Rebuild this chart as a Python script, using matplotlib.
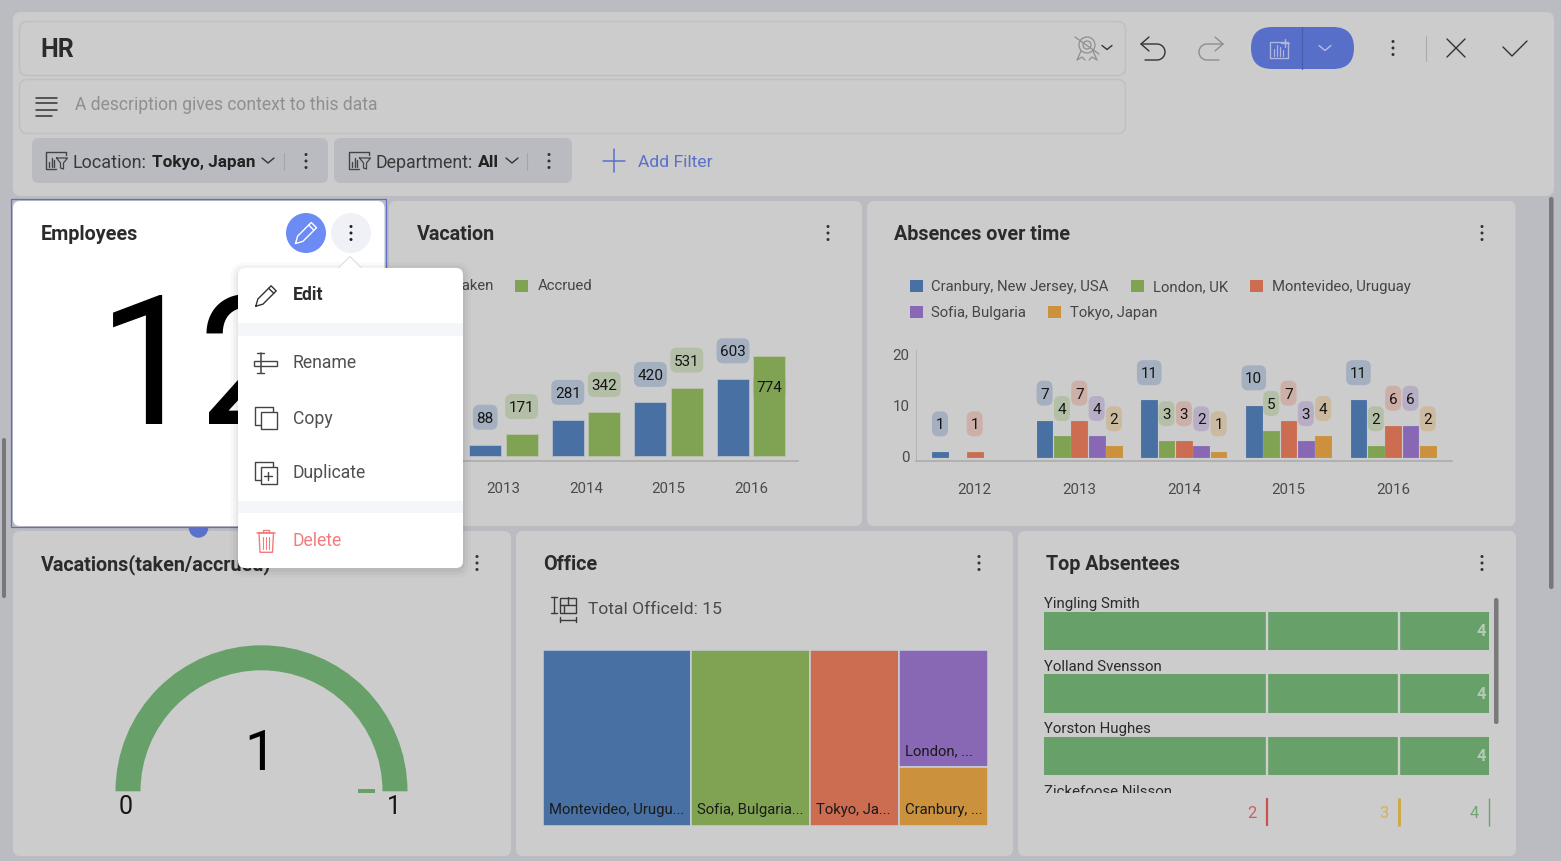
import numpy as np
import matplotlib
matplotlib.use("Agg")
import matplotlib.pyplot as plt
from matplotlib.patches import FancyBboxPatch, Rectangle, Circle, Wedge, Polygon

# ---------- data ----------
vac_years = ["2013", "2014", "2015", "2016"]
vac_taken = [88, 281, 420, 603]
vac_accrued = [171, 342, 531, 774]

abs_years = ["2012", "2013", "2014", "2015", "2016"]
abs_cranbury = [1, 7, 11, 10, 11]
abs_london = [0, 4, 3, 5, 2]
abs_montevideo = [1, 7, 3, 7, 6]
abs_sofia = [0, 4, 2, 3, 6]
abs_tokyo = [0, 2, 1, 4, 2]
abs_names = ["Cranbury, New Jersey, USA", "London, UK", "Montevideo, Uruguay", "Sofia, Bulgaria", "Tokyo, Japan"]

office_names = ["Montevideo, Urugu...", "Sofia, Bulgaria...", "Tokyo, Ja...", "London, ...", "Cranbury, ..."]
office_values = [5, 4, 3, 2, 1]

absentees = ["Yingling Smith", "Yolland Svensson", "Yorston Hughes", "Zickefoose Nilsson"]
absentee_values = [4, 4, 4, 4]
band_stops = [2, 3, 4]
gauge_value = 1
gauge_min = 0
gauge_max = 1
employees_value = "12"

menu_items = ["Rename", "Copy", "Duplicate"]

# ---------- style ----------
W, H = 1561, 861
PAGE = "#BBBCC2"
PANEL = "#CCCCCC"
EDGE = "#BFBFC0"
CHIP = "#BABBC1"
BLUE = "#4870A3"
GREEN = "#7FA352"
RED = "#CC6D52"
PURPLE = "#8868B5"
ORANGE = "#CB913C"
ACCENT = "#5A70CA"
BULLET = "#68A06A"
DARK = "#2B2B2B"
MID = "#454545"
TICK = "#4A4A4A"

plt.rcParams["font.family"] = ["Roboto", "DejaVu Sans"]
fig = plt.figure(figsize=(W / 100, H / 100), dpi=100, facecolor=PAGE)


def layer(z):
    a = fig.add_axes([0, 0, 1, 1], zorder=z)
    a.set_xlim(0, W)
    a.set_ylim(H, 0)
    a.axis("off")
    a.patch.set_alpha(0)
    return a


bg, mid, top = layer(0), layer(2), layer(3)
PIXEL_LAYERS = (bg, mid, top)


def rect_axes(x0, y0, x1, y1, z=1):
    a = fig.add_axes([x0 / W, 1 - y1 / H, (x1 - x0) / W, (y1 - y0) / H], zorder=z)
    a.patch.set_alpha(0)
    return a


def rbox(a, x0, y0, x1, y1, r=7, fc=PANEL, ec="none", lw=1, alpha=None, z=1):
    p = FancyBboxPatch((x0 + r, y0 + r), x1 - x0 - 2 * r, y1 - y0 - 2 * r,
                       boxstyle=f"round,pad={r},rounding_size={r}",
                       fc=fc, ec=ec, lw=lw, alpha=alpha, zorder=z)
    a.add_patch(p)
    return p


def T(a, x, y, s, px=15, color=MID, weight="normal", ha="left", va="center", z=5, **kw):
    if va == "center" and a in PIXEL_LAYERS:
        y = y + 1
    return a.text(x, y, s, fontsize=px * 0.72, color=color, fontweight=weight,
                  ha=ha, va=va, zorder=z, **kw)


def L(a, xs, ys, color=MID, lw=1.0, z=6):
    a.plot(xs, ys, color=color, lw=lw, solid_capstyle="round", solid_joinstyle="round", zorder=z)


def kebab(a, x, y, color="#333333", gap=6.5, r=1.5):
    for d in (-gap, 0, gap):
        a.add_patch(Circle((x, y + d), r, fc=color, ec="none", zorder=7))


def chev(a, x, y, w=6, h=5, color="#333333", lw=1.0):
    L(a, [x - w, x, x + w], [y - h / 2, y + h / 2, y - h / 2], color=color, lw=lw)


def pencil(a, cx, cy, s, color, lw=1.0):
    pts = np.array([[-10, 10], [-8, 3], [5, -10], [10, -5], [-3, 8], [-10, 10]]) * s
    L(a, pts[:, 0] + cx, pts[:, 1] + cy, color=color, lw=lw)
    L(a, [cx + 2.6 * s, cx + 7.6 * s], [cy - 7.6 * s, cy - 2.6 * s], color=color, lw=lw)


def filter_icon(a, x, y):
    L(a, [x + 20, x + 20, x, x, x + 10], [y + 3, y, y, y + 17, y + 17], color="#444444", lw=1.0)
    for dx, h in ((3, 5), (5.5, 9), (8, 7)):
        L(a, [x + dx, x + dx], [y + 15, y + 15 - h], color="#444444", lw=1.0)
    L(a, [x + 10, x + 21, x + 17, x + 17, x + 14, x + 14, x + 10],
      [y + 6, y + 6, y + 11, y + 17, y + 16, y + 11, y + 6], color="#444444", lw=0.9)


# ---------- page ----------
rbox(bg, 13, 12, 1554, 196, r=8)
rbox(bg, 19.5, 21.5, 1125.5, 75.5, r=8, ec=EDGE, lw=1.0)
rbox(bg, 19.5, 79.5, 1125.5, 133.5, r=8, ec=EDGE, lw=1.0)
T(bg, 40.5, 49, "HR", 25, DARK, "bold")
T(bg, 75, 104.5, "A description gives context to this data", 17.55, "#8F8F8F")
for yy, x1 in ((98, 57), (103, 57), (110, 57), (116, 52)):
    L(bg, [36, x1], [yy, yy], "#333333", 1.1)

rbox(bg, 32, 138, 328, 183, r=7, fc=CHIP)
rbox(bg, 334, 138, 572, 183, r=7, fc=CHIP)
filter_icon(bg, 46.5, 152)
filter_icon(bg, 349.5, 152)
T(bg, 73, 161.5, "Location:", 18, "#3A3A3A")
T(bg, 152, 161.5, "Tokyo, Japan", 17.1, "#222222", "bold")
chev(bg, 268, 160.5)
L(bg, [284, 284], [153, 170], "#A5A5AA", 0.8)
kebab(bg, 306, 161)
T(bg, 376, 161.5, "Department:", 17.7, "#3A3A3A")
T(bg, 478, 161.5, "All", 17.5, "#222222", "bold")
chev(bg, 512, 160.5)
L(bg, [527, 527], [153, 170], "#A5A5AA", 0.8)
kebab(bg, 549, 161)
L(bg, [603, 625], [161, 161], ACCENT, 1.1)
L(bg, [614, 614], [149, 172], ACCENT, 1.1)
T(bg, 638.5, 161.5, "Add Filter", 17.5, ACCENT)

# toolbar icons
ax0 = 1087
bg.add_patch(Circle((ax0, 45), 8, fc="none", ec="#8F8F8F", lw=0.9, zorder=6))
bg.add_patch(Circle((ax0, 45), 4, fc="none", ec="#8F8F8F", lw=0.9, zorder=6))
L(bg, [ax0 - 6, ax0 - 10, ax0 - 5, ax0 - 2], [51, 60, 57, 60], "#8F8F8F", 0.9)
L(bg, [ax0 + 6, ax0 + 10, ax0 + 5, ax0 + 2], [51, 60, 57, 60], "#8F8F8F", 0.9)
L(bg, [ax0 - 12, ax0 + 12], [37, 54], "#8F8F8F", 0.9)
chev(bg, 1107, 47.5, 5, 4)
# undo / redo
for x0, sgn, col in ((1141, 1, "#333333"), (1223, -1, "#8E8E8E")):
    L(bg, [x0 + sgn * 8, x0, x0 + sgn * 8], [37, 44, 51], col, 1.0)
    th = np.linspace(-np.pi / 2, np.pi / 2, 24)
    L(bg, np.r_[x0, x0 + sgn * 16 + sgn * 8 * np.cos(th), x0 + sgn * 4],
      np.r_[44, 52 + 8 * np.sin(th), 60], col, 1.0)
rbox(bg, 1251, 27, 1354, 69, r=21, fc="#586FC9")
L(bg, [1302.5, 1302.5], [27, 69], "#4A5EAF", 0.9)
L(bg, [1288, 1270, 1270, 1288, 1288], [42, 42, 58, 58, 44], "#AEB6DD", 1.0)
for dx, h in ((4, 7), (7, 11), (10, 9), (13, 6)):
    L(bg, [1270 + dx, 1270 + dx], [56, 56 - h], "#AEB6DD", 0.9)
L(bg, [1281, 1289], [43, 43], "#AEB6DD", 1.0)
L(bg, [1285, 1285], [39, 47], "#AEB6DD", 1.0)
chev(bg, 1325, 48, 6, 5, "#B5BDE3", 1.0)
kebab(bg, 1393, 48)
L(bg, [1426.5, 1426.5], [36, 61], "#ABABAB", 0.8)
L(bg, [1447, 1465], [39, 57], "#333333", 1.0)
L(bg, [1465, 1447], [39, 57], "#333333", 1.0)
L(bg, [1503, 1512, 1527], [47, 56, 41], "#333333", 1.0)

# ---------- cards ----------
bg.add_patch(Rectangle((11.5, 199), 374.5, 328, fc="none", ec=ACCENT, lw=0.9, zorder=1))
rbox(bg, 13, 201, 384.5, 526, r=7, fc="white", z=2)
rbox(bg, 389, 201, 862, 526, r=7)
rbox(bg, 867, 201, 1515.5, 526, r=7)
rbox(bg, 13, 531, 511, 856, r=7)
rbox(bg, 516, 531, 1013, 856, r=7)
rbox(bg, 1018, 531, 1516, 856, r=7)

titles = [(41, 234, "Employees"), (417, 234, "Vacation"), (894.5, 234, "Absences over time"),
          (41, 564, "Vacations(taken/accrued)"), (543, 564, "Office"), (1046, 564, "Top Absentees")]
for x, y, s in titles:
    T(bg, x, y, s, 19.8, DARK, "bold")
for x, y in ((828, 233), (1482, 233), (477, 563), (979, 563), (1482, 563)):
    kebab(bg, x, y)

# scrollbars
rbox(bg, 1549, 197, 1553.5, 589, r=2, fc="#77777C")
rbox(bg, 2, 438, 6, 598, r=2, fc="#78787C")
rbox(bg, 1494, 598, 1498.5, 724, r=2, fc="#7A7A7C")

# Employees KPI
bg.add_patch(Circle((306, 233), 20, fc="#6C8BF5", ec="none", zorder=3))
pencil(bg, 306, 233, 1.05, "white", 1.0)
bg.add_patch(Circle((351, 233), 20, fc="#F0F1F7", ec="none", zorder=3))
kebab(bg, 351, 233, "#222222")
T(bg, 199, 424, employees_value, 180, "black", ha="center", va="baseline", z=4)
hd = Circle((198.5, 528), 9.7, fc=ACCENT, ec="none", zorder=3)
bg.add_patch(hd)
hd.set_clip_path(Rectangle((0, 527), W, 30, transform=bg.transData))


# ---------- Vacation ----------
VX0, VDX, VY0, VK = 503.4, 82.6, 456.3, 0.129
axv = rect_axes(380, 340, 798, 461.3)
axv.set_xlim((380 - VX0) / VDX, (798 - VX0) / VDX)
axv.set_ylim(-5 / VK, (VY0 - 340) / VK)
xv = np.arange(len(vac_years))
off, bw = 18.2 / VDX, 32 / VDX
axv.bar(xv - off, vac_taken, bw, color=BLUE, ec="#BFC6D0", lw=0.5)
axv.bar(xv + off, vac_accrued, bw, color=GREEN, ec="#BFC8B0", lw=0.5)
axv.set_xticks(xv, vac_years)
axv.set_yticks([])
axv.tick_params(axis="x", length=0, pad=14.6, labelsize=15 * 0.72, labelcolor=TICK)
for s in ("top", "left", "right"):
    axv.spines[s].set_visible(False)
axv.spines["bottom"].set_color("#A9A9A9")
axv.spines["bottom"].set_linewidth(1.1)


def value_tag(a, x, y, v, col, dy=-27.7, w=None, h=25):
    """Tag above the data point (x, y) of axes a."""
    px = a.transData.transform((x, y))
    ux, uy = mid.transData.inverted().transform(px)
    s = str(v)
    w = w or (16 if len(s) == 1 else 8.3 * len(s) + 8)
    cy = uy + dy
    rbox(mid, ux - w / 2, cy - h / 2, ux + w / 2, cy + h / 2, r=6.5, fc=col, alpha=0.3, z=3)
    T(mid, ux, cy, s, 15.2, "#151515", ha="center", va="center_baseline")


for i in xv:
    value_tag(axv, i - off, vac_taken[i], vac_taken[i], BLUE)
    tag_dy = 30 if vac_accrued[i] == max(vac_accrued) else -27.7
    value_tag(axv, i + off, vac_accrued[i], vac_accrued[i], GREEN, dy=tag_dy)

# legend (first swatch lies under the menu)
bg.add_patch(Rectangle((515, 280), 13, 12, fc=GREEN, zorder=5))
T(bg, 537.5, 285.5, "Accrued", 14.9, MID)
T(bg, 494.5, 285.5, "Taken", 14.9, MID, ha="right")

# ---------- Absences ----------
AX0, ADX, AY0, AK = 974.7, 104.6, 456.7, 5.12
axa = rect_axes(916.4, 350, 1452, 461.3)
axa.set_xlim((916.4 - AX0) / ADX, (1452 - AX0) / ADX)
axa.set_ylim((AY0 - 461.3) / AK, (AY0 - 350) / AK)
abs_series = [abs_cranbury, abs_london, abs_montevideo, abs_sofia, abs_tokyo]
abs_cols = [BLUE, GREEN, RED, PURPLE, ORANGE]
xa = np.arange(len(abs_years))
pitch, bwa = 17.35 / ADX, 15.7 / ADX
for k, (vals, c) in enumerate(zip(abs_series, abs_cols)):
    pos = xa + (k - 2) * pitch
    for p, v in zip(pos, vals):
        if v > 0:
            axa.bar(p, v, bwa, color=c, ec=c, lw=0.6)
axa.set_xticks(xa, abs_years)
axa.set_yticks([0, 10, 20])
axa.tick_params(axis="x", length=0, pad=15.5, labelsize=15 * 0.72, labelcolor=TICK)
axa.tick_params(axis="y", length=0, pad=5, labelsize=15 * 0.72, labelcolor=TICK)
for s in ("top", "right"):
    axa.spines[s].set_visible(False)
axa.spines["bottom"].set_color("#A9A9A9")
axa.spines["bottom"].set_linewidth(1.1)
axa.spines["left"].set_color("#B4B4B4")
axa.spines["left"].set_linewidth(0.7)
for k, (vals, c) in enumerate(zip(abs_series, abs_cols)):
    for i, v in enumerate(vals):
        if v > 0:
            value_tag(axa, i + (k - 2) * pitch, v, v, c)

leg = [(910, 286, 931.5, 0), (1131, 286, 1153, 1), (1250, 286, 1272.5, 2), (910, 312, 931.5, 3), (1048, 312, 1070.5, 4)]
for sx, ly, tx, k in leg:
    bg.add_patch(Rectangle((sx, ly - 6.3), 13, 12.6, fc=abs_cols[k], zorder=5))
    T(bg, tx, ly, abs_names[k], 14.9, MID)

# ---------- Gauge ----------
gx, gy, gr = 261.5, 791.3, 146
frac = (gauge_value - gauge_min) / (gauge_max - gauge_min)
bg.add_patch(Wedge((gx, gy), gr, 180, 180 + 180 * frac, width=25, fc=BULLET, ec="none", zorder=4))
bg.add_patch(Rectangle((gx + 96.5, gy - 2.2), 17, 4.4, fc=BULLET, ec="none", zorder=4))
T(bg, 260, 749, str(gauge_value), 56, "black", ha="center", va="center_baseline")
T(bg, 126, 805, str(gauge_min), 25, "#151515", ha="center", va="center_baseline")
T(bg, 393.5, 805, str(gauge_max), 25, "#151515", ha="center", va="center_baseline")

# ---------- Office treemap ----------
axo = rect_axes(542.5, 650, 987.5, 825.7)
total = sum(office_values)
axo.set_xlim(0, total)
axo.set_ylim(1, 0)
axo.axis("off")
office_cols = [BLUE, GREEN, RED, PURPLE, ORANGE]
x = 0
for k in range(3):
    v = office_values[k]
    axo.add_patch(Rectangle((x, 0), v, 1, fc=office_cols[k], ec="#C9CEDA", lw=1.1))
    T(axo, x + 0.21, 0.912, office_names[k], 14.85, "#1A1A1A")
    x += v
rest = sum(office_values[3:])
y = 0
for k in (3, 4):
    hh = office_values[k] / rest
    axo.add_patch(Rectangle((x, y), rest, hh, fc=office_cols[k], ec="#C9CEDA", lw=1.1))
    T(axo, x + 0.21, y + hh - 0.088, office_names[k], 14.85, "#1A1A1A")
    y += hh
T(bg, 588, 609, "Total OfficeId: 15", 17.5, "#4A4A4A")
ic = "#3A3A3A"
L(bg, [554, 554], [597, 613], ic, 1.0); L(bg, [551, 557], [597, 597], ic, 1.0); L(bg, [551, 557], [613, 613], ic, 1.0)
bg.add_patch(Rectangle((560, 597.5), 16, 15.5, fc="none", ec=ic, lw=1.0, zorder=6))
L(bg, [564, 564], [605, 613], ic, 1.0); L(bg, [560, 576], [605, 605], ic, 1.0); L(bg, [568, 568], [597, 605], ic, 1.0)
L(bg, [560, 576], [619.5, 619.5], ic, 1.0); L(bg, [560, 560], [617, 622], ic, 1.0); L(bg, [576, 576], [617, 622], ic, 1.0)

# ---------- Top Absentees ----------
STOP_PX = np.array([0.0, 222.6, 355.0, 444.8])


def fwd(v):
    return np.interp(v, [0] + band_stops, STOP_PX)


def inv(v):
    return np.interp(v, STOP_PX, [0] + band_stops)


TY0, TDY = 631.0, 62.5
axb = rect_axes(1044, 595, 1489, 793)
axb.set_xscale("function", functions=(fwd, inv))
axb.set_xlim(0, band_stops[-1])
axb.set_ylim((793 - TY0) / TDY, (595 - TY0) / TDY)
axb.axis("off")
yb = np.arange(len(absentees))
axb.barh(yb, absentee_values, height=38.7 / TDY, color=BULLET)
for st in band_stops[:-1]:
    for row in yb:
        axb.plot([st, st], [row - 19.35 / TDY, row + 19.35 / TDY], color="#CFCFCF", lw=1.7, zorder=3, solid_capstyle="butt")
for i, n in enumerate(absentees):
    axb.text(0, i - 0.43, n, fontsize=15 * 0.72, color="#2A2A2A", ha="left", va="center", clip_on=True)
    axb.annotate(str(absentee_values[i]), (absentee_values[i], i - 0.01), xytext=(-2.2, 0),
                 textcoords="offset points", ha="right", va="center_baseline",
                 fontsize=16.5 * 0.72, fontweight="bold", color="#B0CDB3", annotation_clip=True)

axt = rect_axes(1044, 798, 1489, 826)
axt.set_xscale("function", functions=(fwd, inv))
axt.set_xlim(0, band_stops[-1])
axt.set_ylim(0, 1)
axt.axis("off")
band_cols = ["#C9504F", "#CFA93A", "#6BA36E"]
band_text = ["#CC5F5F", "#D6B058", "#6FA672"]
band_w = [1.6, 2.0, 1.0]
for st, c, tc, lw in zip(band_stops, band_cols, band_text, band_w):
    xl = st if st != band_stops[-1] else st - 0.004
    axt.plot([xl, xl], [0, 1], color=c, lw=lw, clip_on=False, solid_capstyle="butt")
    axt.annotate(str(st), (st, 0.5), xytext=(-7.5, 0), textcoords="offset points", ha="right",
                 va="center_baseline", fontsize=16.5 * 0.72, color=tc)

# ---------- pop-up menu ----------
for g, al in ((8, 0.02), (5, 0.03), (2, 0.04)):
    rbox(top, 238 - g, 268 - g + 2, 463 + g, 568 + g + 2, r=8 + g, fc="black", alpha=al, ec="none", z=1)
top.add_patch(Polygon([[338, 268.5], [350, 256.5], [362, 268.5]], fc="white", ec="#DEDEE2", lw=0.8, zorder=2))
rbox(top, 238, 268, 463, 568, r=7, fc="white", z=3)
top.add_patch(Rectangle((238, 323), 225, 13, fc="#F5F6FA", zorder=4))
top.add_patch(Rectangle((238, 501), 225, 12, fc="#F5F6FA", zorder=4))
T(top, 293, 294.5, "Edit", 17.6, DARK, "bold")
for s, yy in zip(menu_items, (362.5, 417.5, 472.5)):
    T(top, 293, yy, s, 17.6, "#505050")
T(top, 293, 539.5, "Delete", 17.6, "#F47C7C")
pencil(top, 266, 296, 1.02, "#333333", 1.0)
# rename
top.add_patch(Rectangle((254.5, 360.7), 23, 5.3, fc="none", ec="#444444", lw=1.0, zorder=6))
L(top, [261, 261], [353, 373], "#444444", 1.1)
L(top, [257.5, 264.5], [353, 353], "#444444", 1.0)
L(top, [257.5, 264.5], [373.3, 373.3], "#444444", 1.0)
# copy / duplicate
for dy in (0, 55):
    L(top, [260.7, 255.5, 255.5, 272.7, 272.7], [425 + dy, 425 + dy, 406.5 + dy, 406.5 + dy, 411.5 + dy], "#444444", 1.0)
    top.add_patch(Rectangle((260.7, 411.7 + dy), 16, 17.6, fc="white", ec="#444444", lw=1.0, zorder=6))
L(top, [264.5, 272.5], [475.5, 475.5], "#444444", 1.0, z=7)
L(top, [268.5, 268.5], [471.5, 479.5], "#444444", 1.0, z=7)
# trash
tc = "#F47C7C"
L(top, [257.5, 275], [532.5, 532.5], tc, 1.1)
L(top, [263, 263, 269.5, 269.5], [532, 529.5, 529.5, 532], tc, 1.0)
L(top, [259, 260, 272.5, 273.5, 259], [533, 552.3, 552.3, 533, 533], tc, 1.0)
for xx in (263, 266.2, 269.5):
    L(top, [xx, xx], [537, 549], tc, 0.8)

fig.savefig("out.png", dpi=100, facecolor=PAGE)
